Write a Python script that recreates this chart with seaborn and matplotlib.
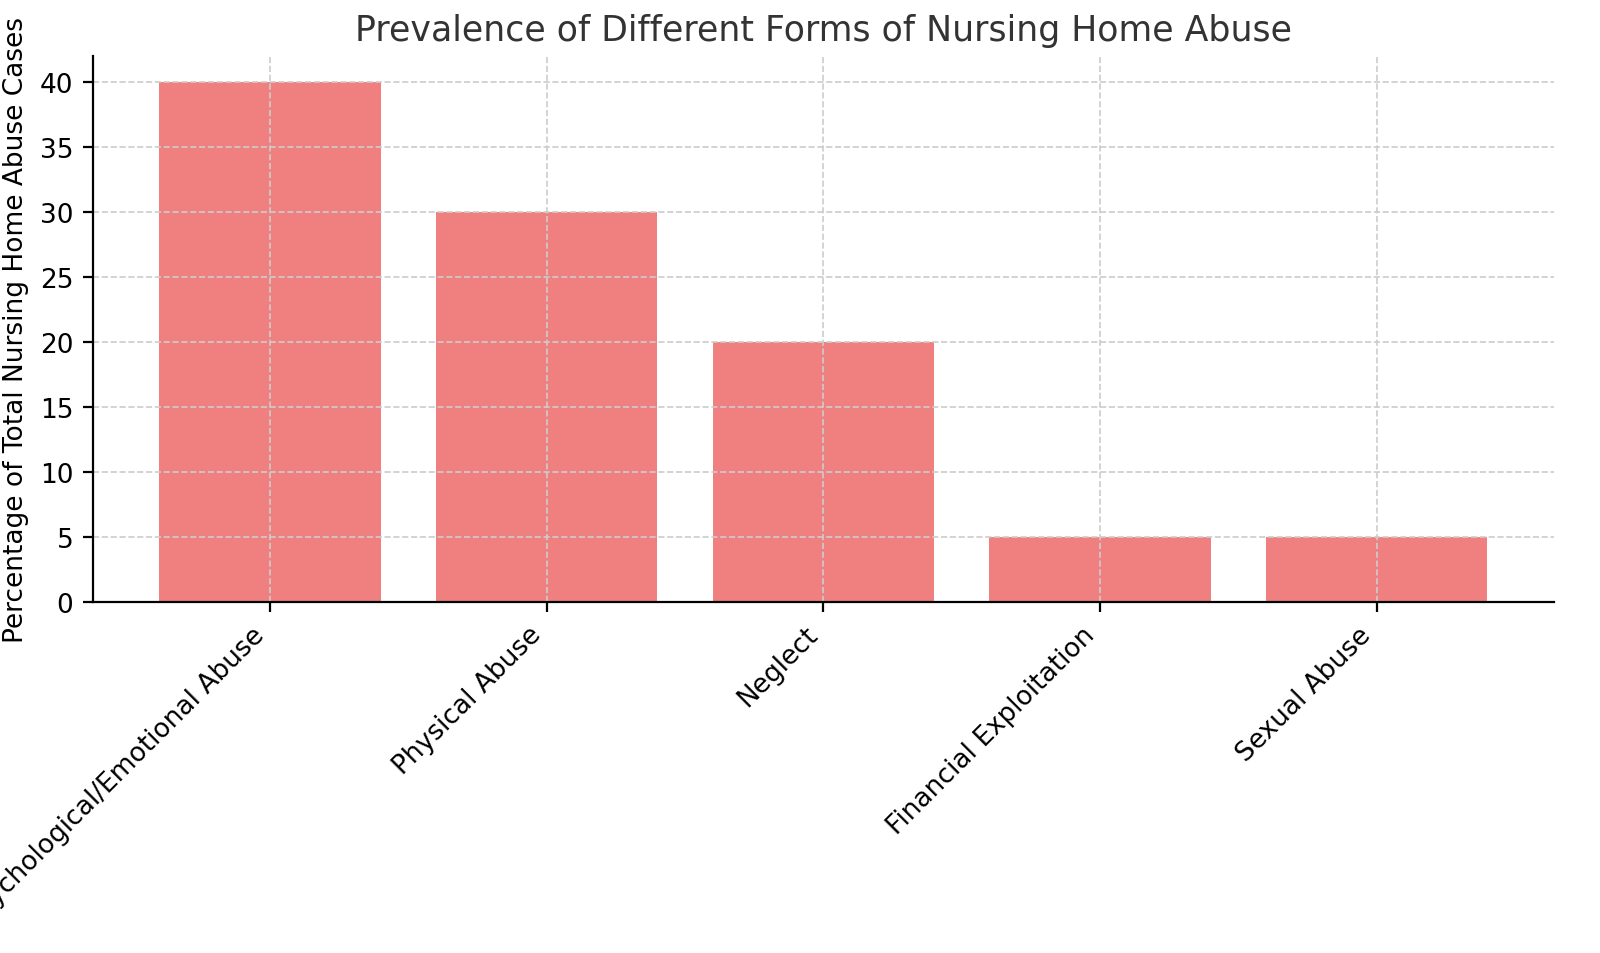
import matplotlib
matplotlib.use("Agg")
import matplotlib.pyplot as plt
import seaborn as sns
import pandas as pd

# Data
categories = ["Psychological/Emotional Abuse", "Physical Abuse", "Neglect",
              "Financial Exploitation", "Sexual Abuse"]
percentages = [40, 30, 20, 5, 5]

df = pd.DataFrame({"Type": categories, "Percentage": percentages})

fig, ax = plt.subplots(figsize=(8, 4.77), dpi=200)
sns.barplot(data=df, x="Type", y="Percentage", color="lightcoral",
            saturation=1, width=0.8, ax=ax)

ax.set_title("Prevalence of Different Forms of Nursing Home Abuse", fontsize=12.5, color="#333333")
ax.set_xlabel("")
ax.set_ylabel("Percentage of Total Nursing Home Abuse Cases", fontsize=9.5)
ax.set_ylim(0, 42)
ax.set_xlim(-0.64, 4.64)
ax.tick_params(labelsize=9.5)
plt.setp(ax.get_xticklabels(), rotation=45, ha="right")
ax.grid(True, linestyle="--", color="#cccccc", linewidth=0.6)
ax.set_axisbelow(False)
for p in ax.patches:
    p.set_zorder(1)
for s in ax.spines.values():
    s.set_zorder(5)
ax.spines["top"].set_visible(False)
ax.spines["right"].set_visible(False)

plt.subplots_adjust(left=0.058, right=0.971, top=0.94, bottom=0.368)
plt.savefig("out.png")
